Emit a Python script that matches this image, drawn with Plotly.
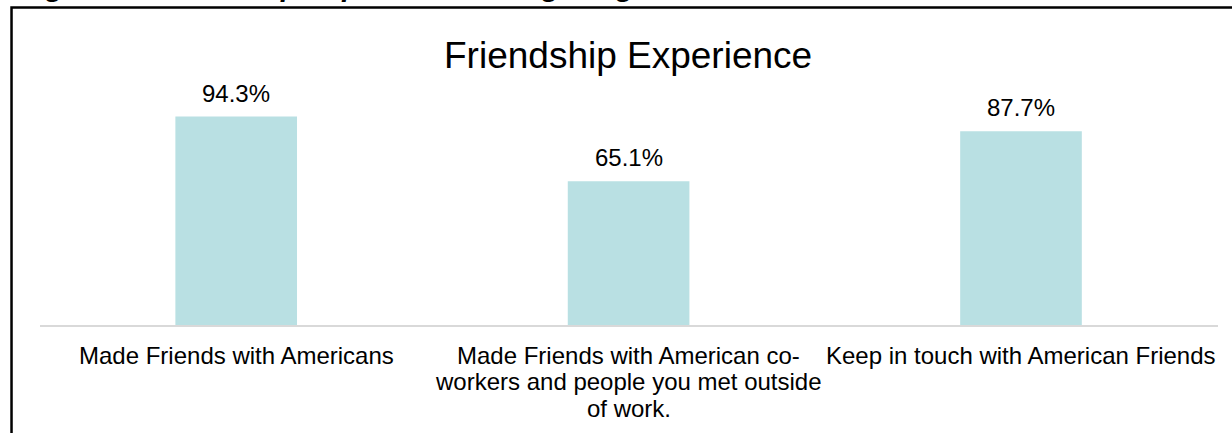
import plotly.graph_objects as go

# Survey results: share of participants (percent)
categories = [
    "Made Friends with Americans",
    "Made Friends with American co-<br>workers and people you met outside<br>of work.",
    "Keep in touch with American Friends",
]
values = [94.3, 65.1, 87.7]
value_labels = [f"{v:.1f}%" for v in values]

chart_title = "Friendship Experience"
caption = "Figure 6: Friendship Experience during Program"

W, H = 1232, 433
M_L, M_R, M_T, M_B = 39.5, 13.5, 104.4, 108
PW, PH = W - M_L - M_R, H - M_T - M_B
FONT = "Liberation Sans, Arial, sans-serif"
LABEL_SIZE = 24
LINE_STEP = 26.5


def px_x(x):
    return (x - M_L) / PW


def px_y(y):
    return (H - M_B - y) / PH


fig = go.Figure()
fig.add_trace(go.Bar(
    x=categories,
    y=values,
    marker=dict(color="#b9e0e3", line=dict(width=0)),
    hoverinfo="skip",
))

# value labels above each bar
for c, v, t in zip(categories, values, value_labels):
    fig.add_annotation(
        x=c, y=v, xref="x", yref="y", text=t, showarrow=False,
        yanchor="bottom", yshift=8,
        font=dict(family=FONT, size=LABEL_SIZE, color="#000000"),
    )

# category labels under the axis, one line at a time for tighter spacing
for c in categories:
    for i, line in enumerate(c.split("<br>")):
        fig.add_annotation(
            x=c, y=0, xref="x", yref="y", text=line, showarrow=False,
            xanchor="center", yanchor="middle",
            yshift=-(30 + i * LINE_STEP),
            font=dict(family=FONT, size=LABEL_SIZE, color="#000000"),
        )

# chart title
fig.add_annotation(
    x=px_x(628), y=px_y(56), xref="paper", yref="paper",
    text=chart_title, showarrow=False, xanchor="center", yanchor="middle",
    font=dict(family=FONT, size=37, color="#000000"),
)

# document caption above the chart frame
fig.add_annotation(
    x=px_x(18), y=px_y(4), xref="paper", yref="paper",
    text=f"<b><i>{caption}</i></b>", showarrow=False,
    xanchor="left", yanchor="bottom", borderpad=0,
    font=dict(family=FONT, size=29, color="#000000"),
)

# chart frame (left and top edges)
fig.add_shape(
    type="path", xref="paper", yref="paper",
    path=f"M {px_x(11)} {px_y(H + 5)} L {px_x(11)} {px_y(8)} L {px_x(W + 5)} {px_y(8)}",
    line=dict(color="#000000", width=2.5),
)

fig.update_layout(
    width=W, height=H,
    margin=dict(l=M_L, r=M_R, t=M_T, b=M_B, pad=0),
    paper_bgcolor="#ffffff", plot_bgcolor="#ffffff",
    bargap=0.69,
    showlegend=False,
    font=dict(family=FONT, size=LABEL_SIZE, color="#000000"),
    xaxis=dict(
        showline=True, linecolor="#d9d9d9", linewidth=2,
        showgrid=False, ticks="", zeroline=False, showticklabels=False,
    ),
    yaxis=dict(
        range=[0, 100], visible=False, showgrid=False, zeroline=False,
    ),
)

fig.write_html("out.html")
